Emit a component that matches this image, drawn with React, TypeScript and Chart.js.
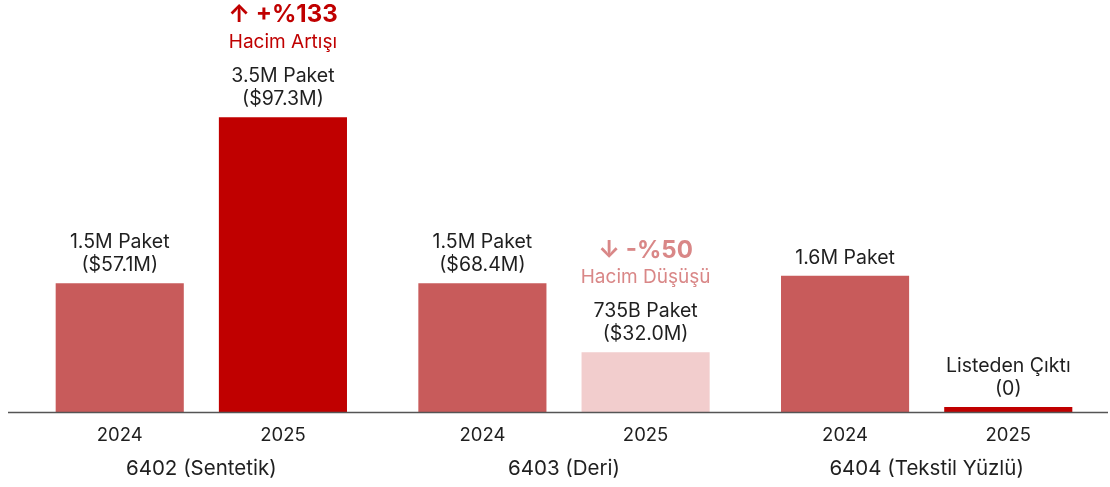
import React, { useEffect, useRef } from "react";
import { Chart, registerables } from "chart.js";

Chart.register(...registerables);

const categories = ["6402 (Sentetik)", "6403 (Deri)", "6404 (Tekstil Yüzlü)"];
const years = ["2024", "2025"];
// package volume (millions)
const values2024 = [1.51, 1.51, 1.6];
const values2025 = [3.46, 0.7, 0.06];
const labels2024 = [
  ["1.5M Paket", "($57.1M)"],
  ["1.5M Paket", "($68.4M)"],
  ["1.6M Paket"],
];
const labels2025 = [
  ["3.5M Paket", "($97.3M)"],
  ["735B Paket", "($32.0M)"],
  ["Listeden Çıktı", "(0)"],
];
const changeTitles = ["↑ +%133", "↓ -%50", ""];
const changeSubtitles = ["Hacim Artışı", "Hacim Düşüşü", ""];

const colors2024 = ["#C85B5B", "#C85B5B", "#C85B5B"];
const colors2025 = ["#C00000", "#F2CDCD", "#C00000"];
const changeColors = ["#C00000", "#D98787", "#C00000"];

const FONT = "Inter, 'Noto Sans', sans-serif";

const labelPlugin = {
  id: "labels",
  afterDatasetsDraw(chart: any) {
    const ctx = chart.ctx;
    const xs = chart.scales.x;
    const ys = chart.scales.y;
    const base = ys.getPixelForValue(0);
    ctx.save();
    // axis line
    ctx.strokeStyle = "#555";
    ctx.lineWidth = 1.5;
    ctx.beginPath();
    ctx.moveTo(8, base + 0.5);
    ctx.lineTo(1108, base + 0.5);
    ctx.stroke();

    ctx.textAlign = "center";
    ctx.textBaseline = "middle";
    const allLabels = [labels2024, labels2025];
    for (let d = 0; d < 2; d++) {
      const meta = chart.getDatasetMeta(d);
      meta.data.forEach((el: any, j: number) => {
        const lines = allLabels[d][j];
        const top = el.y;
        ctx.fillStyle = "#1f1f1f";
        ctx.font = `400 19.5px ${FONT}`;
        let y = top - 18;
        for (let k = lines.length - 1; k >= 0; k--) {
          ctx.fillText(lines[k], el.x, y);
          if (k > 0) y -= 23;
        }
        if (d === 1 && changeTitles[j]) {
          ctx.fillStyle = changeColors[j];
          const subY = y - 34;
          ctx.font = `400 19px ${FONT}`;
          ctx.fillText(changeSubtitles[j], el.x, subY);
          ctx.font = `700 24px ${FONT}`;
          ctx.fillText(changeTitles[j], el.x, subY - 27);
        }
        // year label
        ctx.fillStyle = "#1f1f1f";
        ctx.font = `400 18.5px ${FONT}`;
        ctx.fillText(years[d], el.x, base + 23);
      });
    }
    categories.forEach((c, i) => {
      ctx.fillStyle = "#1f1f1f";
      ctx.font = `400 20.5px ${FONT}`;
      ctx.fillText(c, xs.getPixelForValue(i), base + 57);
    });
    ctx.restore();
  },
};

export default function App() {
  const ref = useRef<HTMLCanvasElement>(null);
  useEffect(() => {
    if (!ref.current) return;
    const chart = new Chart(ref.current, {
      type: "bar",
      data: {
        labels: categories,
        datasets: [
          {
            label: years[0],
            data: values2024,
            backgroundColor: colors2024,
            categoryPercentage: 0.9,
            barPercentage: 0.785,
          },
          {
            label: years[1],
            data: values2025,
            backgroundColor: colors2025,
            categoryPercentage: 0.9,
            barPercentage: 0.785,
          },
        ],
      },
      options: {
        animation: false,
        responsive: true,
        maintainAspectRatio: false,
        layout: { padding: { top: 20, bottom: 75, left: 20, right: 2 } },
        plugins: { legend: { display: false }, tooltip: { enabled: false } },
        scales: {
          x: { display: false },
          y: { display: false, min: 0, max: 4.6 },
        },
      },
      plugins: [labelPlugin],
    });
    return () => chart.destroy();
  }, []);
  return (
    <div style={{ position: "absolute", left: 0, top: 0, width: 1110, height: 487, background: "#fff" }}>
      <canvas ref={ref} />
    </div>
  );
}
